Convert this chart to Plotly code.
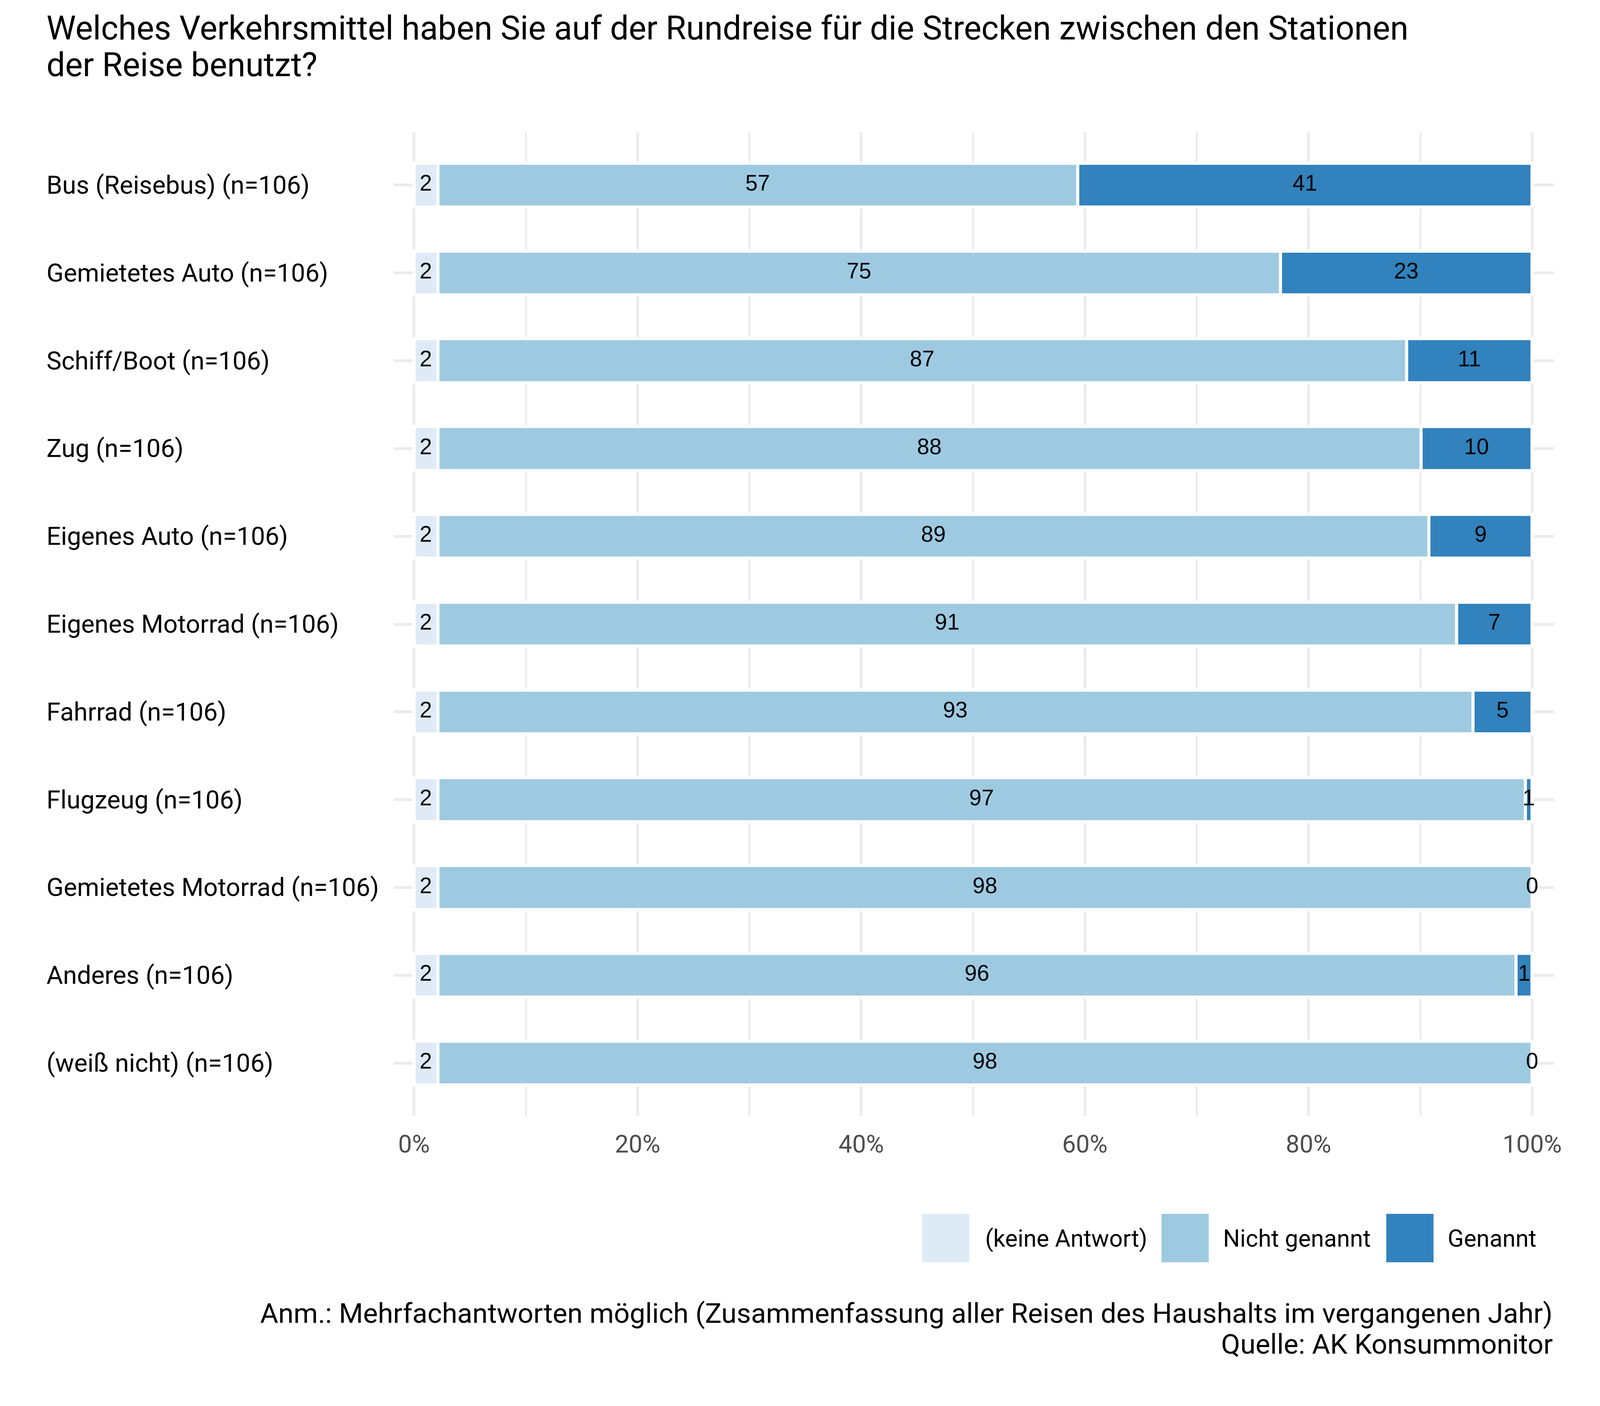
import plotly.graph_objects as go

# survey data: share of answers per means of transport (percent)
categories = [
    "Bus (Reisebus) (n=106)",
    "Gemietetes Auto (n=106)",
    "Schiff/Boot (n=106)",
    "Zug (n=106)",
    "Eigenes Auto (n=106)",
    "Eigenes Motorrad (n=106)",
    "Fahrrad (n=106)",
    "Flugzeug (n=106)",
    "Gemietetes Motorrad (n=106)",
    "Anderes (n=106)",
    "(weiß nicht) (n=106)",
]
keine_antwort = [2.12, 2.12, 2.12, 2.12, 2.12, 2.12, 2.12, 2.12, 2.12, 2.12, 2.12]
nicht_genannt = [57.23, 75.36, 86.65, 87.93, 88.66, 91.12, 92.58, 97.27, 97.88, 96.45, 97.88]
genannt = [40.65, 22.52, 11.23, 9.95, 9.22, 6.76, 5.30, 0.61, 0.0, 1.43, 0.0]

series_names = ["(keine Antwort)", "Nicht genannt", "Genannt"]
series_colors = ["#deebf7", "#9ecae1", "#3182bd"]
x_ticks = [0, 20, 40, 60, 80, 100]
x_ticklabels = ["0%", "20%", "40%", "60%", "80%", "100%"]

title_lines = [
    "Welches Verkehrsmittel haben Sie auf der Rundreise für die Strecken zwischen den Stationen",
    "der Reise benutzt?",
]
caption_lines = [
    "Anm.: Mehrfachantworten möglich (Zusammenfassung aller Reisen des Haushalts im vergangenen Jahr)",
    "Quelle: AK Konsummonitor",
]

# the visible page is about 4096 x 3600 with an 8px body margin,
# so reference pixel positions are mapped into that frame
KX, KY, OFF = 4096 / 4200, 1.0, 8
FS = 0.98
W, H = 4096 - OFF, 3600 - OFF


def fx(px):
    return px * KX - OFF


def fy(py):
    return py * KY - OFF


ML, MT = fx(1034), fy(339)
MR, MB = W - fx(4080), H - fy(2857)
PW = W - ML - MR
PH = H - MT - MB


def px_x(px):
    return (fx(px) - ML) / PW


def px_y(py):
    return (H - MB - fy(py)) / PH


fig = go.Figure()
all_series = [keine_antwort, nicht_genannt, genannt]
for name, col, vals in zip(series_names, series_colors, all_series):
    fig.add_trace(go.Bar(
        y=categories, x=vals, name=name, orientation="h",
        marker=dict(color=col, line=dict(color="white", width=8)),
        width=0.5, showlegend=False, hoverinfo="skip",
    ))

# value labels in the middle of every segment
lab_x, lab_y, lab_t = [], [], []
for i, cat in enumerate(categories):
    start = 0
    for vals in all_series:
        lab_x.append(start + vals[i] / 2)
        lab_y.append(cat)
        lab_t.append(f"{vals[i]:.0f}")
        start += vals[i]
fig.add_trace(go.Scatter(
    x=lab_x, y=lab_y, text=lab_t, mode="text",
    textfont=dict(family="Liberation Sans", size=58 * FS, color="black"),
    showlegend=False, hoverinfo="skip", cliponaxis=False,
))

annotations = []
for cat in categories:
    annotations.append(dict(
        x=px_x(121), xref="paper", y=cat, yref="y", text=cat, showarrow=False,
        xanchor="left", yanchor="middle",
        font=dict(family="Roboto", size=66 * FS, color="black"),
    ))

for line, ypx in zip(title_lines, [72, 166]):
    annotations.append(dict(
        x=px_x(121), xref="paper", y=px_y(ypx), yref="paper", text=line,
        showarrow=False, xanchor="left", yanchor="middle",
        font=dict(family="Roboto", size=86.5 * FS, color="black"),
    ))

for line, ypx in zip(caption_lines, [3362, 3441]):
    annotations.append(dict(
        x=px_x(4078), xref="paper", y=px_y(ypx), yref="paper", text=line,
        showarrow=False, xanchor="right", yanchor="middle",
        font=dict(family="Roboto", size=72.5 * FS, color="black"),
    ))

# legend drawn by hand to get the big square keys
shapes = []
key_left = [2421, 3049, 3639]
text_left = [2584, 3209, 3798]
for name, col, kx, tx in zip(series_names, series_colors, key_left, text_left):
    shapes.append(dict(
        type="rect", xref="paper", yref="paper",
        x0=px_x(kx), x1=px_x(kx + 124), y0=px_y(3108), y1=px_y(3232),
        fillcolor=col, line=dict(width=0),
    ))
    annotations.append(dict(
        x=px_x(tx), xref="paper", y=px_y(3171), yref="paper", text=name,
        showarrow=False, xanchor="left", yanchor="middle",
        font=dict(family="Roboto", size=62 * FS, color="black"),
    ))

fig.update_layout(
    width=W, height=H,
    margin=dict(l=ML, r=MR, t=MT, b=MB, autoexpand=False),
    barmode="stack",
    plot_bgcolor="white", paper_bgcolor="white",
    annotations=annotations, shapes=shapes,
    showlegend=False,
    xaxis=dict(
        range=[-1.81, 101.98], tickvals=x_ticks, ticktext=x_ticklabels,
        showgrid=True, gridcolor="#ebebeb", gridwidth=7, zeroline=False,
        ticks="", ticklabelstandoff=30,
        tickfont=dict(family="Roboto", size=64 * FS, color="#4d4d4d"),
        minor=dict(dtick=10, tick0=0, showgrid=True, gridcolor="#ebebeb", gridwidth=4.5),
        fixedrange=True,
    ),
    yaxis=dict(
        categoryorder="array", categoryarray=categories,
        range=[len(categories) - 0.4, -0.6],
        showgrid=True, gridcolor="#ebebeb", gridwidth=7,
        showticklabels=False, ticks="", zeroline=False,
    ),
)

fig.write_html("out.html")
